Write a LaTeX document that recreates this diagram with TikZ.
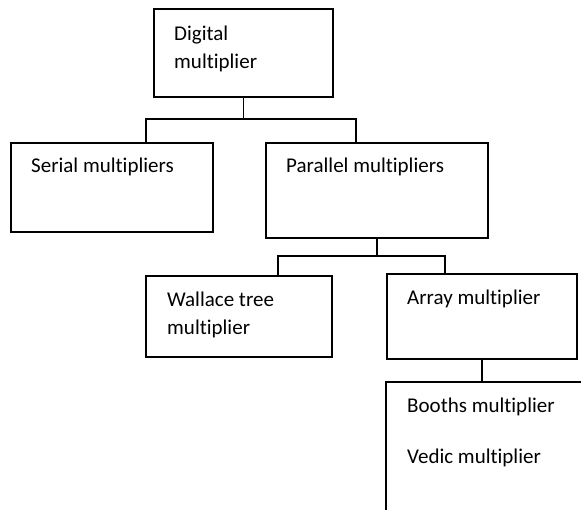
\documentclass[tikz,border=0pt]{standalone}
\usepackage{fontspec}
\setmainfont[Ligatures=NoCommon]{Carlito}
\begin{document}
\begin{tikzpicture}[x=1pt,y=-1pt,
  box/.style={draw,line width=1.6pt,rectangle,inner sep=0pt,anchor=north west},
  lbl/.style={anchor=base west,inner sep=0pt,font=\fontsize{21}{28}\selectfont},
  conn/.style={line width=1.6pt}]
\useasboundingbox (0,0) rectangle (581,510);
% boxes
\node[box,minimum width=179pt,minimum height=88pt] (dig) at (153,8) {};
\node[box,minimum width=202pt,minimum height=89pt] (serial) at (10,142) {};
\node[box,minimum width=222pt,minimum height=95pt] (parallel) at (265,142) {};
\node[box,minimum width=186pt,minimum height=81pt] (wallace) at (145,275) {};
\node[box,minimum width=190pt,minimum height=85pt] (array) at (386,273) {};
\coordinate (booths) at (386,382);
\coordinate (boothsR) at (590,382);
\coordinate (boothsB) at (386,520);
\draw[conn] (boothsR) -- (booths) -- (boothsB);
% labels
\node[lbl] (t1) at (174,41) {Digital};
\node[lbl] (t2) at (174,69) {multiplier};
\node[lbl] (t3) at (31,173) {Serial multipliers};
\node[lbl] (t4) at (286,173) {Parallel multipliers};
\node[lbl] (t5) at (167,307) {Wallace tree};
\node[lbl] (t6) at (167,335) {multiplier};
\node[lbl] (t7) at (407,305) {Array multiplier};
\node[lbl] (t8) at (407,413) {Booths multiplier};
\node[lbl] (t9) at (407,463) {Vedic multiplier};
% connectors
\draw[conn] (dig.south) -- (dig.south |- 0,119);
\draw[conn] (146,0 |- serial.north) -- (146,119) -- (356,119) -- (356,0 |- parallel.north);
\draw[conn] (parallel.south) -- (parallel.south |- 0,256);
\draw[conn] (278,0 |- wallace.north) -- (278,256) -- (445,256) -- (445,0 |- array.north);
\draw[conn] (array.south) -- (array.south |- booths);
\end{tikzpicture}
\end{document}
